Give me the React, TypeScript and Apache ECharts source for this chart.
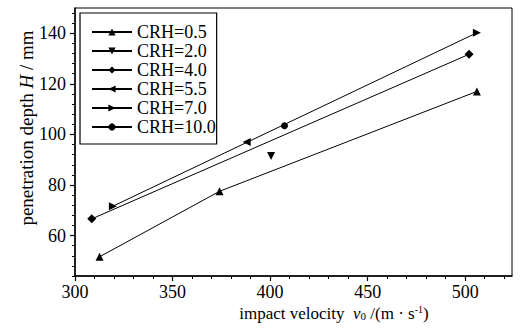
import React, { useEffect, useRef } from "react";
import * as echarts from "echarts";

const seriesNames = ["CRH=0.5", "CRH=2.0", "CRH=4.0", "CRH=5.5", "CRH=7.0", "CRH=10.0"];
const crh05 = [[312.6, 51.6], [374.1, 77.5], [506, 117]];
const crh20 = [[400.5, 91.5]];
const crh40 = [[308.6, 66.6], [502, 131.7]];
const crh55 = [[388, 97]];
const crh70 = [[319.4, 71.6], [506, 140.2]];
const crh100 = [[407.4, 103.4]];

const xMajor = [300, 350, 400, 450, 500];
const xMinor = [300, 310, 320, 330, 340, 350, 360, 370, 380, 390, 400, 410, 420, 430, 440, 450, 460, 470, 480, 490, 500, 510, 520];
const yMajor = [60, 80, 100, 120, 140];
const yMinor = [44, 48, 52, 56, 60, 64, 68, 72, 76, 80, 84, 88, 92, 96, 100, 104, 108, 112, 116, 120, 124, 128, 132, 136, 140, 144, 148];

const FONT = "'Liberation Serif', 'Times New Roman', serif";

export default function App() {
  const ref = useRef<HTMLDivElement>(null);
  useEffect(() => {
    if (!ref.current) return;
    const chart = echarts.init(ref.current, undefined, { renderer: "svg" });
    const black = "#000";
    const mk = (name: string, data: number[][], symbol: string, rotate: number, size: number) => ({
      name,
      type: "line",
      data,
      symbol,
      symbolRotate: rotate,
      symbolSize: size,
      showSymbol: true,
      lineStyle: { color: black, width: 1 },
      itemStyle: { color: black, borderWidth: 0 },
      xAxisIndex: 0,
      yAxisIndex: 0,
      z: 5,
    });
    chart.setOption({
      animation: false,
      backgroundColor: "#fff",
      textStyle: { fontFamily: FONT },
      grid: {
        left: 75,
        right: 9,
        top: 8,
        bottom: 53,
        show: true,
        borderColor: black,
        borderWidth: 1,
        backgroundColor: "transparent",
      },
      legend: {
        show: true,
        data: seriesNames,
        orient: "vertical",
        left: 80,
        top: 13,
        backgroundColor: "#fff",
        borderColor: black,
        borderWidth: 1.2,
        padding: [10, 1, 8, 11],
        itemWidth: 40,
        itemHeight: 9,
        itemGap: 1,
        textStyle: { fontFamily: FONT, fontSize: 18, color: black, lineHeight: 18 },
      },
      xAxis: [
        {
          type: "value",
          min: 300,
          max: 524,
          position: "bottom",
          axisLine: { show: true, lineStyle: { color: black, width: 1.5 } },
          axisTick: { show: true, customValues: xMajor, length: 5, lineStyle: { color: black, width: 1.2 } },
          axisLabel: { show: true, customValues: xMajor, margin: 7, fontFamily: FONT, fontSize: 18, color: black },
          splitLine: { show: false },
        },
        {
          type: "value",
          min: 300,
          max: 524,
          position: "bottom",
          axisLine: { show: false },
          axisTick: { show: true, customValues: xMinor, length: 3, lineStyle: { color: black, width: 1 } },
          axisLabel: { show: false },
          splitLine: { show: false },
        },
      ],
      yAxis: [
        {
          type: "value",
          min: 44,
          max: 150,
          position: "left",
          axisLine: { show: true, lineStyle: { color: black, width: 1.5 } },
          axisTick: { show: true, customValues: yMajor, length: 5, lineStyle: { color: black, width: 1.2 } },
          axisLabel: { show: true, customValues: yMajor, margin: 9, fontFamily: FONT, fontSize: 18, color: black },
          splitLine: { show: false },
        },
        {
          type: "value",
          min: 44,
          max: 150,
          position: "left",
          axisLine: { show: false },
          axisTick: { show: true, customValues: yMinor, length: 3, lineStyle: { color: black, width: 1 } },
          axisLabel: { show: false },
          splitLine: { show: false },
        },
      ],
      graphic: [
        {
          type: "text",
          x: 334,
          y: 313,
          style: {
            text: "impact velocity  {i|v}{sub|0} /(m · s{sup|-1})",
            fontFamily: FONT,
            fontSize: 17,
            fill: black,
            align: "center",
            verticalAlign: "middle",
            rich: {
              i: { fontFamily: FONT, fontSize: 17, fontStyle: "italic", fill: black },
              sub: { fontFamily: FONT, fontSize: 11, fill: black, verticalAlign: "bottom", padding: [6, 0, 0, 0] },
              sup: { fontFamily: FONT, fontSize: 10, fill: black, verticalAlign: "top", padding: [0, 0, 6, 0] },
            },
          },
        },
        {
          type: "text",
          x: 26,
          y: 128,
          rotation: Math.PI / 2,
          style: {
            text: "penetration depth {i|H} / mm",
            fontFamily: FONT,
            fontSize: 19,
            fill: black,
            align: "center",
            verticalAlign: "middle",
            rich: {
              i: { fontFamily: FONT, fontSize: 19, fontStyle: "italic", fill: black },
            },
          },
        },
      ],
      series: [
        mk("CRH=0.5", crh05, "triangle", 0, 8),
        mk("CRH=2.0", crh20, "triangle", 180, 8),
        mk("CRH=4.0", crh40, "diamond", 0, 9),
        mk("CRH=5.5", crh55, "triangle", 90, 8),
        mk("CRH=7.0", crh70, "triangle", -90, 8),
        mk("CRH=10.0", crh100, "circle", 0, 7),
      ],
    });
    return () => chart.dispose();
  }, []);
  return <div ref={ref} style={{ position: "fixed", left: 0, top: 0, width: 521, height: 329 }} />;
}
